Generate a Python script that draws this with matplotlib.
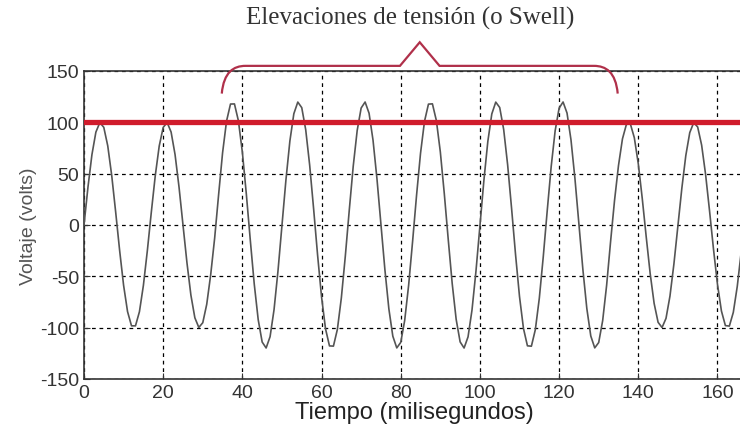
import numpy as np
import matplotlib
matplotlib.use("Agg")
import matplotlib.pyplot as plt
from matplotlib.path import Path
from matplotlib.patches import PathPatch

plt.rcParams["font.family"] = ["Liberation Sans", "DejaVu Sans"]
plt.rcParams["axes.unicode_minus"] = False

# data
cycle_ms = 16.67                     # one 60 Hz cycle
cycle_amplitude = [100, 100, 120, 120, 120, 120, 120, 120, 100, 100]
sample_ms = 1.0
reference_level = 100
x_ticks = [0, 20, 40, 60, 80, 100, 120, 140, 160]
y_ticks = [-150, -100, -50, 0, 50, 100, 150]
title_text = "Elevaciones de tensión (o Swell)"
x_label = "Tiempo (milisegundos)"
y_label = "Voltaje (volts)"

# brace over the swell region (data coords)
brace_left, brace_right = 34.8, 134.8
brace_mid = 84.8
brace_end_y, brace_flat_y, brace_tip_y = 128, 155, 178

t = np.arange(0, cycle_ms * len(cycle_amplitude) + 0.01, sample_ms)
idx = np.minimum((t // cycle_ms).astype(int), len(cycle_amplitude) - 1)
amp = np.array(cycle_amplitude)[idx]
v = amp * np.sin(2 * np.pi * t / cycle_ms)

fig = plt.figure(figsize=(7.4, 4.27), dpi=100)
ax = fig.add_axes([84 / 740, 1 - 380 / 427, 660 / 740, 308 / 427])

ax.plot(t, v, color="#555555", lw=1.2, zorder=3)
ax.axhline(reference_level, color="#d01c2c", lw=3.8, zorder=4)

ax.set_xlim(0, cycle_ms * len(cycle_amplitude))
ax.set_ylim(-150, 150)
ax.set_xticks(x_ticks)
ax.set_yticks(y_ticks)
ax.tick_params(direction="in", length=4, labelsize=14, colors="#333333")
ax.grid(True, color="black", linestyle=(0, (3, 3)), lw=0.9)
for s in ax.spines.values():
    s.set_color("#333333")
    s.set_linewidth(1.2)

ax.set_xlabel(x_label, fontsize=17, color="#222222", labelpad=0)
ax.set_ylabel(y_label, fontsize=14, color="#555555", labelpad=2)

# curly brace
verts = [
    (brace_left, brace_end_y),
    (brace_left + 0.5, brace_flat_y - 6), (brace_left + 3, brace_flat_y), (brace_left + 6, brace_flat_y),
    (brace_mid - 5, brace_flat_y),
    (brace_mid, brace_tip_y),
    (brace_mid + 5, brace_flat_y),
    (brace_right - 6, brace_flat_y),
    (brace_right - 3, brace_flat_y), (brace_right - 0.5, brace_flat_y - 6), (brace_right, brace_end_y),
]
codes = [Path.MOVETO, Path.CURVE4, Path.CURVE4, Path.CURVE4,
         Path.LINETO, Path.LINETO, Path.LINETO, Path.LINETO,
         Path.CURVE4, Path.CURVE4, Path.CURVE4]
brace = PathPatch(Path(verts, codes), fill=False, edgecolor="#b0304a", lw=1.6,
                  clip_on=False, zorder=5)
ax.add_patch(brace)

fig.text(410 / 740, 1 - 18 / 427, title_text, ha="center", va="center",
         fontsize=18, family="Liberation Serif", color="#333333")

fig.savefig("out.png", dpi=100)
